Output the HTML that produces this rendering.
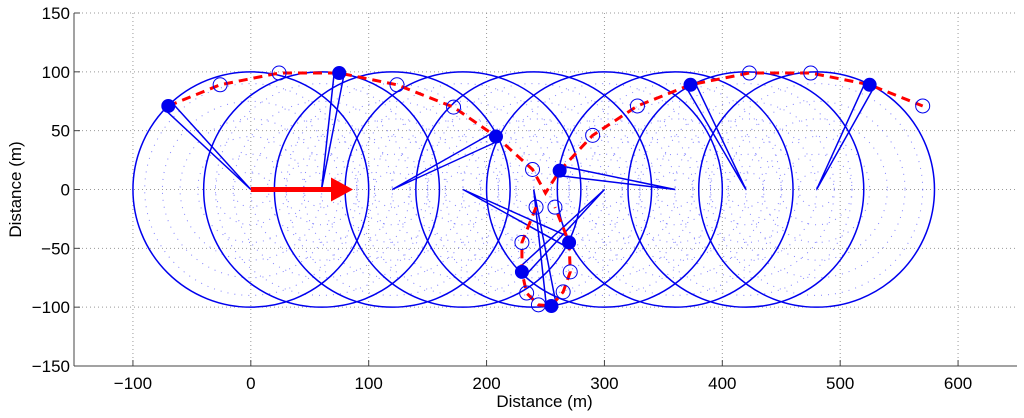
<!DOCTYPE html>
<html><head><meta charset="utf-8">
<style>
html,body{margin:0;padding:0;background:#fff;}
svg{display:block;font-family:"Liberation Sans",Arial,sans-serif;}
</style></head>
<body>
<svg id="chart" width="1024" height="418" viewBox="0 0 1024 418" xmlns="http://www.w3.org/2000/svg"></svg>
<script>
const xTicks=[-100,0,100,200,300,400,500,600];
const yTicks=[-150,-100,-50,0,50,100,150];
const circleCentersX=[0,60,120,180,240,300,360,420,480];
const circleRadius=100;
const filledX=[-70,75,208,262,270,230,255,373,525];
const filledY=[71,99,45,16,-45,-70,-99,89,89];
const filledCenterX=[0,60,120,360,180,300,240,420,480];
const openX=[-26,24,124,172,290,328,423,475,570,239,242,258,230,271,234,244,265];
const openY=[89,99,89,70,46,71,99,99,71,17,-15,-15,-45,-70,-88,-98,-87];
const pathAX=[-70,-26,24,75,124,172,208,239,250,262,290,328,373,423,475,525,570];
const pathAY=[71,89,99,99,89,70,45,17,-3,16,46,71,89,99,99,89,71];
const pathBX=[242,230,230,234,244,255,265,271,270,258];
const pathBY=[-15,-45,-70,-88,-98,-99,-87,-70,-45,-15];
const arrowStart=[0,0], arrowEnd=[85,0];

const L=74,R=1017,T=13,B=366;
const xMin=-150,xMax=650,yMin=-150,yMax=150;
const sx=v=>L+(v-xMin)/(xMax-xMin)*(R-L);
const sy=v=>B-(v-yMin)/(yMax-yMin)*(B-T);
const kx=(R-L)/(xMax-xMin), ky=(B-T)/(yMax-yMin);
const svg=document.getElementById('chart');
const NS='http://www.w3.org/2000/svg';
function mk(tag,attrs,parent){const e=document.createElementNS(NS,tag);for(const k in attrs)e.setAttribute(k,attrs[k]);(parent||svg).appendChild(e);return e;}

const grid=mk('g',{});


xTicks.forEach(v=>{mk('line',{x1:sx(v),x2:sx(v),y1:T,y2:B,stroke:'#999','stroke-width':1,'stroke-dasharray':'1 3'},grid);});
yTicks.forEach(v=>{mk('line',{x1:L,x2:R,y1:sy(v),y2:sy(v),stroke:'#999','stroke-width':1,'stroke-dasharray':'1 3'},grid);});

const dots=mk('g',{});


circleCentersX.forEach(cx=>{[15,30,45,60,75,90].forEach(r=>{mk('ellipse',{cx:sx(cx),cy:sy(0),rx:r*kx,ry:r*ky,fill:'none',stroke:'#5a5aff','stroke-width':1,'stroke-dasharray':'1 6',opacity:0.75},dots);});});

const circles=mk('g',{});


circleCentersX.forEach(cx=>{
  const c=mk('ellipse',{cx:sx(cx),cy:sy(0),rx:circleRadius*kx,ry:circleRadius*ky,fill:'none',stroke:'#0000ee','stroke-width':1.5},circles);
  
  
});

const links=mk('g',{});


filledX.forEach((x,i)=>{
  const x0=sx(filledCenterX[i]),y0=sy(0),x1=sx(x),y1=sy(filledY[i]);
  const dx=x1-x0,dy=y1-y0,len=Math.hypot(dx,dy)||1;
  const px=-dy/len*5,py=dx/len*5;
  mk('polyline',{points:`${x1+px},${y1+py} ${x0},${y0} ${x1-px},${y1-py}`,fill:'none',stroke:'#0000ee','stroke-width':1.5},links);
});

function pts(xs,ys){return xs.map((x,i)=>sx(x)+','+sy(ys[i])).join(' ');}
const pa=mk('polyline',{points:pts(pathAX,pathAY),fill:'none',stroke:'#ff0000','stroke-width':3,'stroke-dasharray':'9 6'});


const pb=mk('polyline',{points:pts(pathBX,pathBY),fill:'none',stroke:'#ff0000','stroke-width':3,'stroke-dasharray':'9 6'});



openX.forEach((x,i)=>{
  const c=mk('circle',{cx:sx(x),cy:sy(openY[i]),r:7,fill:'none',stroke:'#0000ee','stroke-width':1});
  
  
});
filledX.forEach((x,i)=>{
  const c=mk('circle',{cx:sx(x),cy:sy(filledY[i]),r:6.5,fill:'#0000ee',stroke:'#0000ee'});
  
  
});

const ax0=sx(arrowStart[0]),ax1=sx(arrowEnd[0]),ay=sy(arrowStart[1]);
const arr=mk('g',{});


mk('line',{x1:ax0,x2:ax1-18,y1:ay,y2:ay,stroke:'#ff0000','stroke-width':5},arr);
mk('polygon',{points:`${ax1-20},${ay-12} ${ax1+2},${ay} ${ax1-20},${ay+12}`,fill:'#ff0000'},arr);

const ax=mk('g',{});


mk('line',{x1:L,x2:L,y1:T,y2:B,stroke:'#444','stroke-width':1},ax);
mk('line',{x1:L,x2:R,y1:B,y2:B,stroke:'#444','stroke-width':1},ax);
xTicks.forEach(v=>{
  mk('line',{x1:sx(v),x2:sx(v),y1:B,y2:B-6,stroke:'#444'},ax);
  const t=mk('text',{x:sx(v),y:B+23,'text-anchor':'middle','font-size':17,fill:'#000'},ax);
  t.textContent=(v<0?'\u2212'+(-v):v);
  
  
});
yTicks.forEach(v=>{
  mk('line',{x1:L,x2:L+6,y1:sy(v),y2:sy(v),stroke:'#444'},ax);
  const t=mk('text',{x:L-4,y:sy(v)+6,'text-anchor':'end','font-size':17,fill:'#000'},ax);
  t.textContent=(v<0?'\u2212'+(-v):v);
  
  
});
const xt=mk('text',{x:(L+R)/2-1,y:407,'text-anchor':'middle','font-size':17,fill:'#000'});
xt.textContent='Distance (m)';


const yt=mk('text',{x:0,y:0,'text-anchor':'middle','font-size':17,fill:'#000',transform:`translate(21,${(T+B)/2}) rotate(-90)`});
yt.textContent='Distance (m)';


</script>
</body></html>
